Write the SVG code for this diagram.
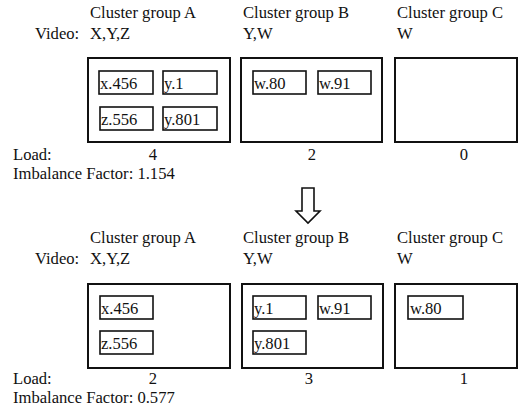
<svg xmlns="http://www.w3.org/2000/svg" width="520" height="416" viewBox="0 0 520 416">
<style>
text{font-family:"Liberation Serif","Times New Roman",serif;font-size:16.6px;fill:#111}
.c{text-anchor:middle}
.outer{fill:none;stroke:#111;stroke-width:2}
.inner{fill:none;stroke:#111;stroke-width:1.6}
</style>
<rect width="520" height="416" fill="#fff"/>
<g id="top-section">
<text x="90" y="18">Cluster group A</text>
<text x="243" y="18">Cluster group B</text>
<text x="397" y="18">Cluster group C</text>
<text x="35" y="39">Video:</text>
<text x="90" y="39">X,Y,Z</text>
<text x="243" y="39">Y,W</text>
<text x="397" y="39">W</text>
<g id="top-A">
<rect class="outer" x="88" y="58" width="142" height="84"/>
<g id="top-A-x456"><rect class="inner" x="99" y="71" width="54" height="23"/><text x="100" y="89">x.456</text></g>
<g id="top-A-y1"><rect class="inner" x="163" y="71" width="54" height="23"/><text x="164" y="89">y.1</text></g>
<g id="top-A-z556"><rect class="inner" x="100" y="107" width="53" height="23"/><text x="101" y="125">z.556</text></g>
<g id="top-A-y801"><rect class="inner" x="163" y="107" width="54" height="23"/><text x="164" y="125">y.801</text></g>
</g>
<g id="top-B">
<rect class="outer" x="241" y="58" width="141" height="84"/>
<g id="top-B-w80"><rect class="inner" x="253" y="71" width="53" height="23"/><text x="254" y="89">w.80</text></g>
<g id="top-B-w91"><rect class="inner" x="318" y="71" width="53" height="23"/><text x="319" y="89">w.91</text></g>
</g>
<g id="top-C">
<rect class="outer" x="395" y="58" width="122" height="84"/>
</g>
<text x="13" y="160">Load:</text>
<text class="c" x="153" y="160">4</text>
<text class="c" x="312" y="160">2</text>
<text class="c" x="464" y="160">0</text>
<text x="13" y="179">Imbalance Factor: 1.154</text>
</g>
<g id="connectors">
<path d="M302,188 H314 V211 H320 L308,223 L296,211 H302 Z" fill="none" stroke="#111" stroke-width="1.6" stroke-linejoin="miter"/>
</g>
<g id="bottom-section">
<text x="90" y="243">Cluster group A</text>
<text x="243" y="243">Cluster group B</text>
<text x="397" y="243">Cluster group C</text>
<text x="35" y="264">Video:</text>
<text x="90" y="264">X,Y,Z</text>
<text x="243" y="264">Y,W</text>
<text x="397" y="264">W</text>
<g id="bottom-A">
<rect class="outer" x="88" y="284" width="142" height="84"/>
<g id="bottom-A-x456"><rect class="inner" x="100" y="296" width="53" height="23"/><text x="101" y="314">x.456</text></g>
<g id="bottom-A-z556"><rect class="inner" x="100" y="331" width="53" height="23"/><text x="101" y="349">z.556</text></g>
</g>
<g id="bottom-B">
<rect class="outer" x="242" y="284" width="141" height="84"/>
<g id="bottom-B-y1"><rect class="inner" x="253" y="296" width="53" height="23"/><text x="254" y="314">y.1</text></g>
<g id="bottom-B-w91"><rect class="inner" x="318" y="296" width="53" height="23"/><text x="319" y="314">w.91</text></g>
<g id="bottom-B-y801"><rect class="inner" x="253" y="331" width="53" height="23"/><text x="254" y="349">y.801</text></g>
</g>
<g id="bottom-C">
<rect class="outer" x="395" y="284" width="122" height="84"/>
<g id="bottom-C-w80"><rect class="inner" x="408" y="296" width="55" height="23"/><text x="410" y="314">w.80</text></g>
</g>
<text x="13" y="384">Load:</text>
<text class="c" x="153" y="384">2</text>
<text class="c" x="309" y="384">3</text>
<text class="c" x="464" y="384">1</text>
<text x="13" y="403">Imbalance Factor: 0.577</text>
</g>
</svg>
